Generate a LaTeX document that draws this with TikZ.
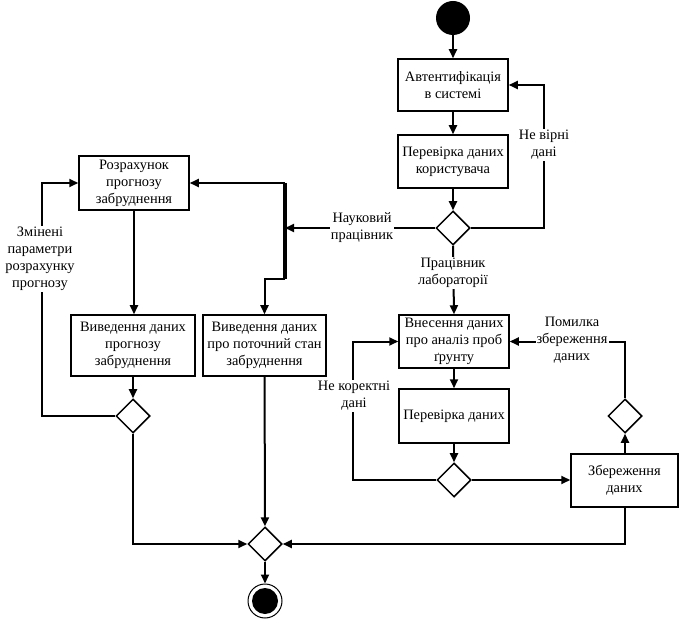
\documentclass[tikz,border=0pt]{standalone}
\usepackage{fontspec}
\setmainfont{Liberation Serif}
\usepackage{tikz}
\usetikzlibrary{arrows.meta, positioning, calc, shapes.geometric}

\tikzset{
	action/.style={draw, line width=1.5pt, fill=white, align=center, inner sep=1pt, font=\fontsize{14.4}{17}\selectfont},
	decision/.style={draw, diamond, line width=1.5pt, fill=white, minimum width=34pt, minimum height=34pt, inner sep=0pt},
	flow/.style={line width=2pt, -{Triangle[length=9pt,width=8pt]}},
	link/.style={line width=2pt},
	guard/.style={fill=white, align=center, inner sep=1pt, font=\fontsize{14.4}{17}\selectfont}
}

\begin{document}
\begin{tikzpicture}[x=1pt, y=-1pt]
	\useasboundingbox (0,0) rectangle (680,620);
	\node[circle, fill=black, minimum size=34pt, inner sep=0pt] (start) at (453,18) {};
	\node[action, minimum width=110pt, minimum height=52pt] (auth) at (453,85) {Автентифікація\\в системі};
	\node[action, minimum width=110pt, minimum height=53pt] (check) at (453,161.5) {Перевірка даних\\користувача};
	\node[decision] (role) at (453,228) {};

	\node[action, minimum width=110pt, minimum height=54pt] (calc) at (134,183) {Розрахунок\\прогнозу\\забруднення};
	\node[action, minimum width=124pt, minimum height=61pt] (showfc) at (133,345.5) {Виведення даних\\прогнозу\\забруднення};
	\node[action, minimum width=123pt, minimum height=61pt] (showcur) at (264.5,345.5) {Виведення даних\\про поточний стан\\забруднення};
	\node[decision] (fcok) at (133,416) {};

	\node[action, minimum width=110pt, minimum height=53pt] (enter) at (454,341.5) {Внесення даних\\про аналіз проб\\ґрунту};
	\node[action, minimum width=110pt, minimum height=54pt] (verify) at (454,416) {Перевірка даних};
	\node[decision] (valid) at (454,480) {};
	\node[action, minimum width=107pt, minimum height=53pt] (save) at (624.5,480.5) {Збереження\\даних};
	\node[decision] (saved) at (625,416) {};

	\node[decision] (merge) at (265,544) {};
	\node[circle, draw, line width=1pt, minimum size=34pt, inner sep=0pt] (finish) at (265,601) {};
	\fill (finish.center) circle (13pt);

	\coordinate (forktop) at (285,183);
	\coordinate (forkmid) at (285,228);
	\coordinate (forkbot) at (285,279);
	\coordinate (wrongA) at (544,85);
	\coordinate (changeA) at (42,183);
	\coordinate (badA) at (353,341.5);
	\draw[line width=4.5pt] (forktop) -- (forkbot);

	\draw[flow] (start) -- (auth);
	\draw[flow] (auth) -- (check);
	\draw[flow] (check) -- (role);
	\draw[flow] (role.east) -| (wrongA) -- (auth.east);
	\node[guard] at (544,145) {Не вірні\\дані};
	\draw[flow] (role.west) -- (forkmid);
	\node[guard] at (362,228) {Науковий\\працівник};
	\draw[flow] (forktop) -- (calc.east);
	\draw[flow] (forkbot) -| (showcur.north);
	\draw[flow] (calc) -- (calc |- showfc.north);
	\draw[flow] (showfc) -- (fcok);
	\draw[flow] (fcok.west) -| (changeA) -- (calc.west);
	\node[guard] at (40,259) {Змінені\\параметри\\розрахунку\\прогнозу};
	\draw[flow] (fcok.south) |- (merge.west);
	\draw[flow] (showcur) -- (merge);
	\draw[flow] (save.south) |- (merge.east);
	\draw[flow] (merge) -- (finish);

	\draw[flow] (role.south) -- (enter.north);
	\node[guard] at (453,273) {Працівник\\лабораторії};
	\draw[flow] (enter) -- (verify);
	\draw[flow] (verify) -- (valid);
	\draw[flow] (valid.east) -- (valid.east -| save.west);
	\draw[flow] (valid.west) -| (badA) -- (enter.west);
	\node[guard] at (354,396) {Не коректні\\дані};
	\draw[flow] (saved |- save.north) -- (saved.south);
	\draw[flow] (saved.north) |- (enter.east);
	\node[guard] at (572,340) {Помилка\\збереження\\даних};
\end{tikzpicture}
\end{document}
